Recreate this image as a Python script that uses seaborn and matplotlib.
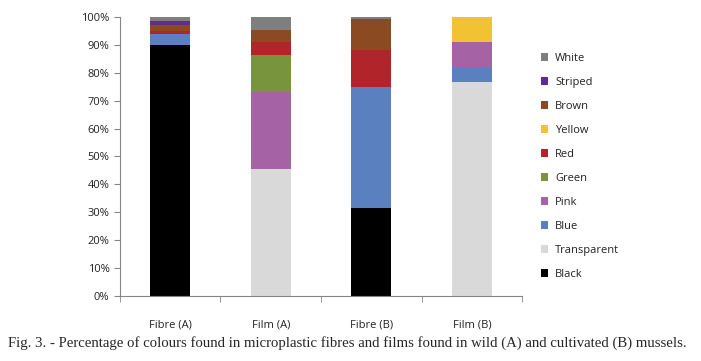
import pandas as pd
import seaborn as sns
import matplotlib.pyplot as plt
from matplotlib.ticker import PercentFormatter, FixedLocator

samples = ['Fibre (A)', 'Film (A)', 'Fibre (B)', 'Film (B)']
# legend order top to bottom (last one sits at the bottom of each stack)
colours = ['White', 'Striped', 'Brown', 'Yellow', 'Red', 'Green', 'Pink', 'Blue', 'Transparent', 'Black']
palette = ['#7f7f7f', '#5f2d91', '#8b4a22', '#f1c232', '#b0242a',
           '#78943c', '#a562a5', '#5b80c0', '#d9d9d9', '#000000']

white = [1.3, 4.7, 0.7, 0.0]
striped = [1.7, 0.0, 0.0, 0.0]
brown = [2.0, 4.3, 11.1, 0.0]
yellow = [0.0, 0.0, 0.0, 8.8]
red = [1.0, 4.6, 13.2, 0.0]
green = [0.0, 13.4, 0.0, 0.0]
pink = [0.0, 27.5, 0.0, 9.2]
blue = [4.0, 0.0, 43.5, 5.4]
transparent = [0.0, 45.5, 0.0, 76.6]
black = [90.0, 0.0, 31.5, 0.0]

series = [white, striped, brown, yellow, red, green, pink, blue, transparent, black]
rows = []
for name, vals in zip(colours, series):
    for s, v in zip(samples, vals):
        rows.append({'sample': s, 'colour': name, 'pct': v / 100})
df = pd.DataFrame(rows)

sns.set_style('white')
fig, ax = plt.subplots(figsize=(7.01, 3.61), dpi=100)
fig.subplots_adjust(left=0.171, right=0.745, top=0.953, bottom=0.18)

sns.histplot(data=df, x='sample', weights='pct', hue='colour', hue_order=colours,
             palette=palette, multiple='stack', discrete=True, shrink=0.4,
             alpha=1, linewidth=0, ax=ax)

ax.set_ylim(0, 1)
ax.set_xlim(-0.5, 3.5)
ax.yaxis.set_major_locator(FixedLocator([i / 10 for i in range(11)]))
ax.yaxis.set_major_formatter(PercentFormatter(1.0, decimals=0))
ax.set_xticks(range(4))
ax.set_xticklabels(samples)
ax.set_xticks([-0.5, 0.5, 1.5, 2.5, 3.5], minor=True)
ax.tick_params(axis='x', which='major', length=0, pad=17, labelsize=8, labelcolor='#222222')
ax.tick_params(axis='x', which='minor', length=4, color='#868686', direction='out', bottom=True)
ax.tick_params(axis='y', length=4, color='#868686', direction='out', left=True, labelsize=8, labelcolor='#222222')
ax.set_xlabel('')
ax.set_ylabel('')
for side in ['top', 'right']:
    ax.spines[side].set_visible(False)
for side in ['left', 'bottom']:
    ax.spines[side].set_color('#868686')
    ax.spines[side].set_linewidth(0.8)
for lbl in ax.get_xticklabels() + ax.get_yticklabels():
    lbl.set_fontfamily('Open Sans')

sns.move_legend(ax, loc='center left', bbox_to_anchor=(0.757, 0.54), bbox_transform=fig.transFigure,
                frameon=False, title=None, fontsize=8, handlelength=0.7, handleheight=0.7,
                labelspacing=1.17, handletextpad=0.6)
for t in ax.get_legend().get_texts():
    t.set_fontfamily('Open Sans')
    t.set_color('#222222')

fig.text(0.012, 0.03, 'Fig. 3. - Percentage of colours found in microplastic fibres and films found in wild (A) and cultivated (B) mussels.',
         fontfamily='Liberation Serif', fontsize=10.65, ha='left', va='bottom')

plt.savefig('out.png', dpi=100)
